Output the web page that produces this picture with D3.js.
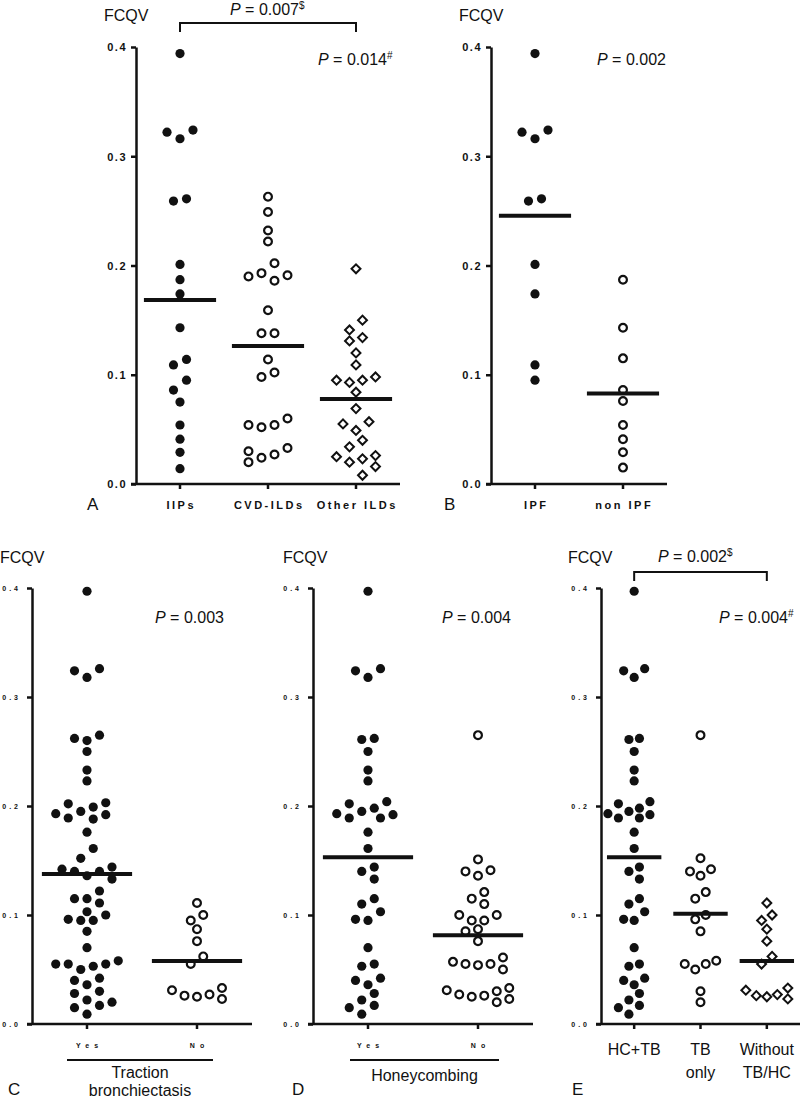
<!DOCTYPE html>
<html>
<head>
<meta charset="utf-8">
<script src="https://cdn.jsdelivr.net/npm/d3@7/dist/d3.min.js"></script>
<style>
  html, body { margin: 0; padding: 0; background: #fff; }
  svg { display: block; }
  text { font-family: "Liberation Sans", Arial, sans-serif; fill: #111; }
</style>
</head>
<body>
<svg id="chart" width="800" height="1099"></svg>
<script>
// ---------------- DATA ----------------
const yTicks = [0, 0.1, 0.2, 0.3, 0.4];

// Panel A
const catsA = ["IIPs", "CVD-ILDs", "Other ILDs"];
const iipsValues = [0.394, 0.324, 0.322, 0.316, 0.261, 0.259, 0.201, 0.187, 0.174, 0.143, 0.114, 0.109, 0.095, 0.086, 0.075, 0.054, 0.041, 0.029, 0.014];
const cvdValues = [0.263, 0.249, 0.232, 0.222, 0.202, 0.193, 0.191, 0.190, 0.186, 0.159, 0.138, 0.138, 0.114, 0.102, 0.098, 0.060, 0.054, 0.054, 0.052, 0.033, 0.030, 0.027, 0.024, 0.020];
const otherValues = [0.197, 0.150, 0.141, 0.134, 0.131, 0.120, 0.109, 0.098, 0.095, 0.095, 0.093, 0.084, 0.069, 0.057, 0.055, 0.049, 0.040, 0.034, 0.026, 0.025, 0.023, 0.020, 0.016, 0.008];

// Panel B
const catsB = ["IPF", "non IPF"];
const ipfValues = [0.394, 0.324, 0.322, 0.316, 0.261, 0.259, 0.201, 0.174, 0.109, 0.095];
const nonIpfValues = [0.187, 0.143, 0.115, 0.086, 0.076, 0.054, 0.041, 0.029, 0.015];

// Panel C
const catsC = ["Yes", "No"];
const tbYesValues = [0.397, 0.326, 0.324, 0.318, 0.265, 0.262, 0.260, 0.250, 0.233, 0.223, 0.203, 0.202, 0.199, 0.195, 0.193, 0.192, 0.189, 0.188, 0.176, 0.161, 0.152, 0.144, 0.142, 0.140, 0.140, 0.136, 0.133, 0.122, 0.115, 0.115, 0.111, 0.103, 0.100, 0.096, 0.095, 0.095, 0.085, 0.070, 0.058, 0.055, 0.055, 0.055, 0.053, 0.050, 0.042, 0.040, 0.036, 0.030, 0.028, 0.022, 0.020, 0.017, 0.015, 0.009];
const tbNoValues = [0.111, 0.100, 0.095, 0.087, 0.076, 0.062, 0.055, 0.033, 0.031, 0.027, 0.026, 0.025, 0.023];

// Panel D
const catsD = ["Yes", "No"];
const hcYesValues = [0.397, 0.326, 0.324, 0.318, 0.262, 0.261, 0.250, 0.233, 0.223, 0.204, 0.202, 0.198, 0.195, 0.193, 0.192, 0.189, 0.189, 0.176, 0.161, 0.144, 0.140, 0.133, 0.115, 0.110, 0.103, 0.096, 0.095, 0.070, 0.055, 0.053, 0.042, 0.040, 0.036, 0.028, 0.022, 0.017, 0.015, 0.009];
const hcNoValues = [0.265, 0.151, 0.141, 0.140, 0.136, 0.121, 0.115, 0.110, 0.100, 0.100, 0.095, 0.095, 0.087, 0.085, 0.076, 0.061, 0.057, 0.055, 0.055, 0.054, 0.050, 0.033, 0.031, 0.030, 0.027, 0.026, 0.025, 0.023, 0.020];

// Panel E
const catsE = ["HC+TB", "TB only", "Without TB/HC"];
const hcTbValues = [0.397, 0.326, 0.324, 0.318, 0.262, 0.261, 0.250, 0.233, 0.223, 0.204, 0.202, 0.198, 0.195, 0.193, 0.192, 0.189, 0.189, 0.176, 0.161, 0.144, 0.140, 0.133, 0.115, 0.110, 0.103, 0.096, 0.095, 0.070, 0.055, 0.053, 0.042, 0.040, 0.036, 0.028, 0.022, 0.017, 0.015, 0.009];
const tbOnlyValues = [0.265, 0.152, 0.142, 0.140, 0.136, 0.121, 0.115, 0.100, 0.096, 0.085, 0.058, 0.055, 0.055, 0.050, 0.030, 0.020];
const withoutValues = [0.111, 0.100, 0.095, 0.087, 0.076, 0.062, 0.055, 0.033, 0.031, 0.027, 0.026, 0.025, 0.023];

// ---------------- DRAWING ----------------
const svg = d3.select("#chart");

// Prism-like scatter layout: points grouped into rows, lowest value in the centre of a row
function swarm(values, y, sp, rowH, minD) {
  const pts = values.map(v => ({ v, y: y(v), dx: 0 })).sort((a, b) => a.y - b.y);
  const rows = [];
  pts.forEach(p => {
    const r = rows[rows.length - 1];
    if (r && p.y - r[0].y < rowH) r.push(p); else rows.push([p]);
  });
  const placed = [];
  const ok = (dx, yy) => placed.every(q => Math.hypot(q.dx - dx, q.y - yy) >= minD);
  rows.forEach(row => {
    const n = row.length;
    const slots = d3.range(n).map(i => (i - (n - 1) / 2) * sp)
      .sort((a, b) => Math.abs(a) - Math.abs(b) || a - b);
    const byLow = row.slice().sort((a, b) => b.y - a.y);
    byLow.forEach((p, i) => { p.base = slots[i]; });
    let done = false;
    for (const s of [0, -sp / 2, sp / 2, -sp, sp]) {
      if (row.every(p => ok(p.base + s, p.y))) {
        row.forEach(p => { p.dx = p.base + s; placed.push(p); });
        done = true; break;
      }
    }
    if (!done) {
      byLow.forEach(p => {
        for (let k = 0; k < 80; k++) {
          const m = k * sp / 2;
          const left = placed.filter(q => Math.abs(q.y - p.y) < minD && q.dx < 0).length;
          const right = placed.filter(q => Math.abs(q.y - p.y) < minD && q.dx > 0).length;
          const cands = k === 0 ? [0] : (left <= right ? [-m, m] : [m, -m]);
          const f = cands.find(c => ok(c, p.y));
          if (f !== undefined) { p.dx = f; break; }
        }
        placed.push(p);
      });
    }
  });
  return pts;
}

function panel(cfg) {
  const g = svg.append("g");
  const y = d3.scaleLinear().domain([0, 0.4]).range([cfg.y0, cfg.y1]);
  const x = d3.scaleBand().domain(cfg.cats).range([cfg.x0, cfg.x1]);
  const bw = x.bandwidth();

  const ya = g.append("g").attr("transform", `translate(${cfg.x0},0)`)
    .call(d3.axisLeft(y).tickValues(yTicks).tickSize(5).tickSizeOuter(0).tickPadding(cfg.tickPad)
      .tickFormat(cfg.tickFmt));
  ya.select(".domain").attr("stroke", "#111").attr("stroke-width", 2.5);
  ya.selectAll(".tick line").attr("stroke", "#111").attr("stroke-width", 2.5);
  ya.selectAll(".tick text").attr("font-family", "'Liberation Sans', Arial, sans-serif")
    .attr("font-size", cfg.tickFont).attr("font-weight", "bold")
    .attr("letter-spacing", cfg.tickLS).attr("fill", "#111").attr("dy", "0.35em");

  const xa = g.append("g").attr("transform", `translate(0,${cfg.y0})`)
    .call(d3.axisBottom(x).tickSize(5).tickSizeOuter(0).tickFormat(""));
  xa.select(".domain").attr("stroke", "#111").attr("stroke-width", 2.5)
    .attr("d", `M${cfg.x0 - 5},0H${cfg.x1}`);
  xa.selectAll(".tick line").attr("stroke", "#111").attr("stroke-width", 2.5);

  cfg.series.forEach((vals, i) => {
    const cx = x(cfg.cats[i]) + bw / 2;
    const pts = swarm(vals, y, cfg.step, cfg.rowH, cfg.minD);
    const shape = cfg.shapes[i];
    const sel = g.append("g").selectAll("path").data(pts).join("path")
      .attr("transform", d => `translate(${cx + d.dx},${d.y})` + (shape === "diamond" ? " rotate(45)" : ""));
    if (shape === "filled") {
      sel.attr("d", d3.symbol(d3.symbolCircle, Math.PI * 4.6 * 4.6)).attr("fill", "#111");
    } else if (shape === "open") {
      sel.attr("d", d3.symbol(d3.symbolCircle, Math.PI * 3.9 * 3.9)).attr("fill", "#fff")
        .attr("stroke", "#111").attr("stroke-width", 2.2);
    } else {
      sel.attr("d", d3.symbol(d3.symbolSquare, 40)).attr("fill", "#fff")
        .attr("stroke", "#111").attr("stroke-width", 2);
    }
    const m = d3.mean(vals);
    g.append("line").attr("x1", cx - bw * 0.41).attr("x2", cx + bw * 0.41)
      .attr("y1", y(m)).attr("y2", y(m)).attr("stroke", "#111").attr("stroke-width", 4);
  });

  if (cfg.catStyle === "bold") {
    cfg.cats.forEach(c => {
      g.append("text").attr("x", x(c) + bw / 2 + cfg.catLS / 2).attr("y", cfg.catY)
        .attr("text-anchor", "middle").attr("font-size", cfg.catFont).attr("font-weight", "bold")
        .attr("letter-spacing", cfg.catLS).text(c);
    });
  } else {
    cfg.cats.forEach((c, i) => {
      cfg.catLines[i].forEach((ln, j) => {
        g.append("text").attr("x", x(c) + bw / 2).attr("y", cfg.catY + j * 23)
          .attr("text-anchor", "middle").attr("font-size", 16).text(ln);
      });
    });
  }

  g.append("text").attr("x", cfg.fcqvX).attr("y", cfg.fcqvY).attr("font-size", 16).text("FCQV");
  g.append("text").attr("x", cfg.letterX).attr("y", cfg.letterY).attr("font-size", 17).text(cfg.letter);

  cfg.pvals.forEach(p => {
    const t = g.append("text").attr("x", p.x).attr("y", p.y).attr("font-size", 16);
    t.append("tspan").attr("font-style", "italic").text("P");
    t.append("tspan").text(" = " + p.val);
    if (p.sup) t.append("tspan").attr("font-size", 10).attr("dy", -6).text(p.sup);
  });

  if (cfg.bracket) {
    const b = cfg.bracket;
    const xa1 = x(cfg.cats[b.from]) + bw / 2, xa2 = x(cfg.cats[b.to]) + bw / 2;
    g.append("path").attr("d", `M${xa1},${b.y + 9}V${b.y}H${xa2}V${b.y + 9}`)
      .attr("fill", "none").attr("stroke", "#111").attr("stroke-width", 2);
  }

  if (cfg.group) {
    const gr = cfg.group;
    g.append("line").attr("x1", gr.x1).attr("x2", gr.x2).attr("y1", gr.lineY).attr("y2", gr.lineY)
      .attr("stroke", "#111").attr("stroke-width", 2);
    gr.lines.forEach((ln, j) => {
      g.append("text").attr("x", (gr.x1 + gr.x2) / 2).attr("y", gr.textY + j * 18)
        .attr("text-anchor", "middle").attr("font-size", 16).text(ln);
    });
  }
}

const fmt1 = d3.format(".1f");

panel({
  cats: catsA, series: [iipsValues, cvdValues, otherValues], shapes: ["filled", "open", "diamond"],
  x0: 136, x1: 400, y0: 484, y1: 47, tickFmt: fmt1, tickFont: 11, tickLS: 1.5, tickPad: 4,
  step: 13, rowH: 10, minD: 10.5,
  catStyle: "bold", catFont: 11, catLS: 2.5, catY: 509,
  fcqvX: 104, fcqvY: 21, letter: "A", letterX: 87, letterY: 510,
  pvals: [{ x: 230, y: 15, val: "0.007", sup: "$" }, { x: 318, y: 65, val: "0.014", sup: "#" }],
  bracket: { from: 0, to: 2, y: 23 }
});

panel({
  cats: catsB, series: [ipfValues, nonIpfValues], shapes: ["filled", "open"],
  x0: 491, x1: 667, y0: 484, y1: 47, tickFmt: fmt1, tickFont: 11, tickLS: 1.5, tickPad: 4,
  step: 13, rowH: 10, minD: 10.5,
  catStyle: "bold", catFont: 11, catLS: 2.5, catY: 509,
  fcqvX: 459, fcqvY: 21, letter: "B", letterX: 444, letterY: 510,
  pvals: [{ x: 597, y: 65, val: "0.002" }]
});

panel({
  cats: catsC, series: [tbYesValues, tbNoValues], shapes: ["filled", "open"],
  x0: 32, x1: 252, y0: 1024, y1: 588, tickFmt: fmt1, tickFont: 7, tickLS: 3, tickPad: 6,
  step: 12.5, rowH: 10, minD: 10.5,
  catStyle: "bold", catFont: 7, catLS: 5, catY: 1048,
  fcqvX: 0, fcqvY: 563, letter: "C", letterX: 8, letterY: 1095,
  pvals: [{ x: 155, y: 623, val: "0.003" }],
  group: { x1: 67, x2: 213, lineY: 1060, textY: 1078, lines: ["Traction", "bronchiectasis"] }
});

panel({
  cats: catsD, series: [hcYesValues, hcNoValues], shapes: ["filled", "open"],
  x0: 313, x1: 533, y0: 1024, y1: 588, tickFmt: fmt1, tickFont: 7, tickLS: 3, tickPad: 6,
  step: 12.5, rowH: 10, minD: 10.5,
  catStyle: "bold", catFont: 7, catLS: 5, catY: 1048,
  fcqvX: 283, fcqvY: 563, letter: "D", letterX: 292, letterY: 1095,
  pvals: [{ x: 442, y: 623, val: "0.004" }],
  group: { x1: 350, x2: 499, lineY: 1060, textY: 1081, lines: ["Honeycombing"] }
});

panel({
  cats: catsE, series: [hcTbValues, tbOnlyValues, withoutValues], shapes: ["filled", "open", "diamond"],
  x0: 601, x1: 800, y0: 1024, y1: 588, tickFmt: fmt1, tickFont: 7, tickLS: 3, tickPad: 6,
  step: 10.5, rowH: 10, minD: 9.8,
  catStyle: "plain", catLines: [["HC+TB"], ["TB", "only"], ["Without", "TB/HC"]], catY: 1055,
  fcqvX: 568, fcqvY: 563, letter: "E", letterX: 572, letterY: 1095,
  pvals: [{ x: 658, y: 562, val: "0.002", sup: "$" }, { x: 719, y: 623, val: "0.004", sup: "#" }],
  bracket: { from: 0, to: 2, y: 572 }
});
</script>
</body>
</html>
